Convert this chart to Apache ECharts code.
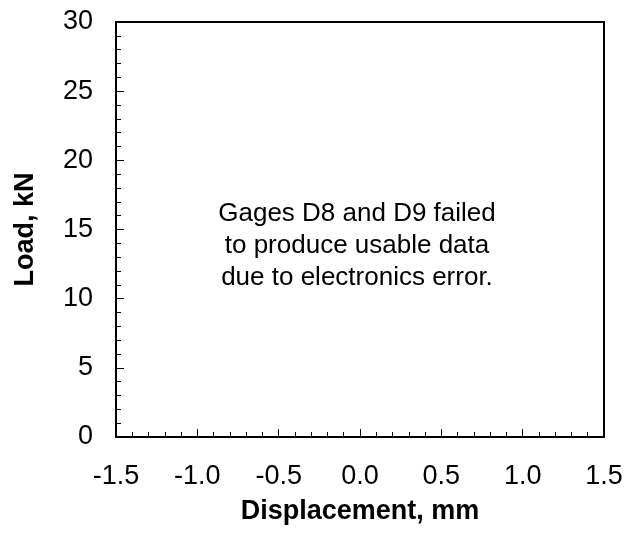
<!DOCTYPE html>
<html>
<head>
<meta charset="utf-8">
<script src="https://cdn.jsdelivr.net/npm/echarts@6/dist/echarts.min.js"></script>
<style>
html,body{margin:0;padding:0;background:#fff;}
#chart{width:629px;height:534px;}
</style>
</head>
<body>
<div id="chart"></div>
<script>
const xTicks = [-1.5, -1.0, -0.5, 0.0, 0.5, 1.0, 1.5];
const yTicks = [0, 5, 10, 15, 20, 25, 30];
const xTitle = 'Displacement, mm';
const yTitle = 'Load, kN';
const noteLines = ['Gages D8 and D9 failed', 'to produce usable data', 'due to electronics error.'];
const seriesData = [];

const FONT = '"Liberation Sans", Arial, sans-serif';
const chart = echarts.init(document.getElementById('chart'), null, {renderer: 'canvas'});
const axisCommon = {
  axisLine: {show: true, onZero: false, lineStyle: {color: '#000', width: 1.5}},
  axisTick: {show: true, inside: true, length: 8, lineStyle: {color: '#000', width: 1}},
  minorTick: {show: true, splitNumber: 5, length: 5, lineStyle: {color: '#000', width: 1}},
  splitLine: {show: false},
  nameLocation: 'middle',
  nameTextStyle: {fontFamily: FONT, fontSize: 27, fontWeight: 'bold', color: '#000'}
};
chart.setOption({
  animation: false,
  backgroundColor: '#fff',
  grid: {left: 116, right: 25, top: 22, bottom: 97, show: true, borderColor: '#000', borderWidth: 2, containLabel: false},
  xAxis: Object.assign({}, axisCommon, {
    type: 'value',
    min: xTicks[0], max: xTicks[xTicks.length - 1], interval: 0.5,
    name: xTitle, nameGap: 61.5,
    axisLabel: {margin: 26.5, fontFamily: FONT, fontSize: 27, color: '#000',
      formatter: v => v.toFixed(1)}
  }),
  yAxis: Object.assign({}, axisCommon, {
    type: 'value',
    min: yTicks[0], max: yTicks[yTicks.length - 1], interval: 5,
    name: yTitle, nameGap: 76.5,
    axisLabel: {margin: 23, fontFamily: FONT, fontSize: 27, color: '#000'}
  }),
  graphic: [{
    type: 'text',
    x: 357, y: 246,
    style: {
      text: noteLines.join('\n'),
      fontFamily: FONT, fontSize: 26, lineHeight: 32,
      fill: '#000', textAlign: 'center', textVerticalAlign: 'middle'
    }
  }],
  series: [{type: 'scatter', data: seriesData}]
});
</script>
</body>
</html>
